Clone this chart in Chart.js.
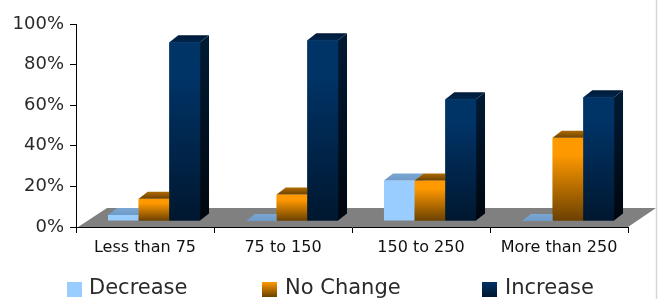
<!DOCTYPE html>
<html><head><meta charset="utf-8">
<script src="https://cdn.jsdelivr.net/npm/chart.js@4/dist/chart.umd.min.js"></script>
<style>html,body{margin:0;padding:0;background:#fff;}#wrap{width:659px;height:299px;position:relative;}</style>
</head><body><div id="wrap"><canvas id="c" width="659" height="299"></canvas></div>
<script>
const categories = ['Less than 75', '75 to 150', '150 to 250', 'More than 250'];
const seriesNames = ['Decrease', 'No Change', 'Increase'];
const decreaseValues = [3, 0, 20, 0];
const noChangeValues = [11, 13, 20, 41];
const increaseValues = [88, 89, 60, 61];
const yTicks = [0, 20, 40, 60, 80, 100];

const FONT = "'DejaVu Sans', sans-serif";
const TEXT = '#2a2a2a';
const SHIFT = {dx: 9, dy: -6};      // bar front plane offset (3D look)
const DEPTH = {dx: 9, dy: -7};      // bar depth
const FLOOR = {dx: 28, dy: -19};    // floor depth

const styles = [
  {front: ['#99CCFF', '#99CCFF'], top: ['#6E9BC8', '#7AA6D2'], side: ['#7BA7D4', '#6E9BC8']},
  {front: ['#FF9900', '#6A4000'], top: ['#6E4300', '#B06A00'], side: ['#8A5200', '#3A2300']},
  {front: ['#003366', '#00172F'], top: ['#00264D', '#001A36'], side: ['#001A33', '#00060F']}
];

function frontColor(s) {
  return function(c) {
    const st = styles[s];
    if (c.type !== 'data' || st.front[0] === st.front[1]) return st.front[0];
    const ys = c.chart.scales.y;
    if (!ys) return st.front[0];
    const top = ys.getPixelForValue(c.parsed.y);
    const base = ys.getPixelForValue(0);
    if (!isFinite(top) || !isFinite(base) || base - top < 1) return st.front[0];
    const g = c.chart.ctx.createLinearGradient(0, top, 0, base);
    g.addColorStop(0, st.front[0]);
    g.addColorStop(0.2, st.front[0]);
    g.addColorStop(1, st.front[1]);
    return g;
  };
}

function drawTopSide(ctx, el, s) {
  const p = el.getProps(['x', 'y', 'base', 'width'], true);
  if (![p.x, p.y, p.base, p.width].every(isFinite)) return;
  const l = p.x - p.width / 2, r = p.x + p.width / 2;
  const y = Math.min(p.y, p.base), base = Math.max(p.y, p.base);
  const st = styles[s];
  if (base - y > 0.5) {
    const g = ctx.createLinearGradient(0, y, 0, base);
    g.addColorStop(0, st.side[0]); g.addColorStop(1, st.side[1]);
    ctx.fillStyle = g;
    ctx.beginPath();
    ctx.moveTo(r, y); ctx.lineTo(r + DEPTH.dx, y + DEPTH.dy);
    ctx.lineTo(r + DEPTH.dx, base + DEPTH.dy); ctx.lineTo(r, base);
    ctx.closePath(); ctx.fill();
  }
  const gt = ctx.createLinearGradient(0, y, 0, y + DEPTH.dy);
  gt.addColorStop(0, st.top[0]); gt.addColorStop(1, st.top[1]);
  ctx.fillStyle = gt;
  ctx.beginPath();
  ctx.moveTo(l, y); ctx.lineTo(l + DEPTH.dx, y + DEPTH.dy);
  ctx.lineTo(r + DEPTH.dx, y + DEPTH.dy); ctx.lineTo(r, y);
  ctx.closePath(); ctx.fill();
}

const fake3d = {
  id: 'fake3d',
  beforeDatasetsDraw(chart) {
    const ctx = chart.ctx, a = chart.chartArea;
    ctx.save();
    ctx.fillStyle = '#808080';
    ctx.beginPath();
    ctx.moveTo(a.left + 2, a.bottom);
    ctx.lineTo(a.right, a.bottom);
    ctx.lineTo(a.right + FLOOR.dx, a.bottom + FLOOR.dy);
    ctx.lineTo(a.left + 3 + FLOOR.dx, a.bottom + FLOOR.dy);
    ctx.closePath(); ctx.fill();
    ctx.translate(SHIFT.dx, SHIFT.dy);
  },
  afterDatasetsDraw(chart) {
    const ctx = chart.ctx;
    const metas = seriesNames.map((_, i) => chart.getDatasetMeta(i));
    for (let j = 0; j < categories.length; j++) {
      for (let s = 0; s < metas.length; s++) {
        const el = metas[s].data[j];
        if (!el) continue;
        if (s > 0) el.draw(ctx);
        drawTopSide(ctx, el, s);
      }
    }
    ctx.restore();
  },
  afterDraw(chart) {
    const ctx = chart.ctx;
    ctx.save();
    ctx.strokeStyle = '#d6d6d6'; ctx.lineWidth = 1.5;
    ctx.beginPath(); ctx.moveTo(656.5, 0); ctx.lineTo(656.5, 299); ctx.stroke();
    const boxX = [67, 262, 482], textX = [89, 285, 505];
    const boxY = 282, box = 15;
    ctx.font = '21px ' + FONT;
    ctx.textBaseline = 'alphabetic'; ctx.textAlign = 'left';
    seriesNames.forEach((name, s) => {
      const st = styles[s];
      const g = ctx.createLinearGradient(0, boxY, 0, boxY + box);
      g.addColorStop(0, st.front[0]); g.addColorStop(1, st.front[1]);
      ctx.fillStyle = g;
      ctx.fillRect(boxX[s], boxY, box, box);
      ctx.fillStyle = TEXT;
      ctx.fillText(name, textX[s], 294);
    });
    ctx.restore();
  }
};

const seriesValues = [decreaseValues, noChangeValues, increaseValues];

new Chart(document.getElementById('c'), {
  type: 'bar',
  data: {
    labels: categories,
    datasets: seriesNames.map((name, s) => ({
      label: name,
      data: seriesValues[s],
      backgroundColor: frontColor(s),
      borderWidth: 0,
      categoryPercentage: 0.667,
      barPercentage: 1.0,
      clip: false
    }))
  },
  options: {
    responsive: false,
    devicePixelRatio: 1,
    animation: false,
    layout: {padding: {top: 24, right: 31, bottom: 0, left: 0}},
    plugins: {legend: {display: false}, tooltip: {enabled: false}},
    scales: {
      x: {
        z: 1,
        grid: {drawOnChartArea: false, drawTicks: true, tickLength: 6, color: '#000', offset: true},
        border: {color: '#000', width: 1},
        ticks: {font: {family: FONT, size: 16}, color: '#111', padding: 5, maxRotation: 0, autoSkip: false},
        afterFit(s) { s.height = 72; }
      },
      y: {
        min: 0, max: 100,
        afterBuildTicks(s) { s.ticks = yTicks.map(v => ({value: v})); },
        grid: {drawOnChartArea: false, drawTicks: true, tickLength: 6, color: '#000'},
        border: {color: '#000', width: 1},
        ticks: {font: {family: FONT, size: 18}, color: TEXT, padding: 6, callback: v => v + '%'},
        afterFit(s) { s.width = 76; }
      }
    }
  },
  plugins: [fake3d]
});
</script>
</body></html>
